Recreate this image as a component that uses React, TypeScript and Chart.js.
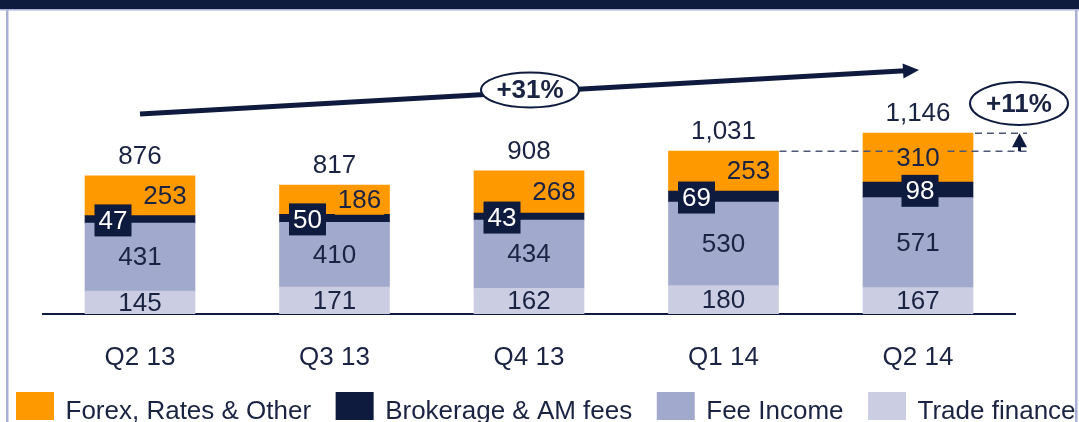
import React, { useEffect, useRef } from "react";
import { Chart, registerables } from "chart.js";

Chart.register(...registerables);

const categories = ["Q2 13", "Q3 13", "Q4 13", "Q1 14", "Q2 14"];
const tradeFinance = [145, 171, 162, 180, 167];
const feeIncome = [431, 410, 434, 530, 571];
const brokerageAm = [47, 50, 43, 69, 98];
const forexRatesOther = [253, 186, 268, 253, 310];
const totals = [876, 817, 908, 1031, 1146];
const growthLongLabel = "+31%";
const growthShortLabel = "+11%";

const NAVY = "#0F1B3E";
const TEXT = "#1A2342";
const ORANGE = "#FF9900";
const FEE = "#A1A9CC";
const TRADE = "#CBCEE3";
const FRAME = "#A9B0D6";
const DASH = "#4F5877";
const FONT = '"Liberation Sans", Arial, Helvetica, sans-serif';

// label horizontal shifts (styling only)
const brokerageShift = [-27, -27, -27, -27, 2];
const forexShift = [25, 25, 25, 25, 0];

const fmt = (v: number) => v.toLocaleString("en-US");

const decorPlugin = {
  id: "decor",
  beforeDraw(chart: any) {
    const ctx = chart.ctx;
    const W = chart.width;
    const H = chart.height;
    ctx.save();
    ctx.fillStyle = "#FFFFFF";
    ctx.fillRect(0, 0, W, H);
    ctx.fillStyle = NAVY;
    ctx.fillRect(0, 0, W, 9);
    ctx.fillStyle = FRAME;
    ctx.fillRect(0, 9, W, 1.5);
    ctx.fillRect(6, 10, 2.5, H - 10);
    ctx.fillRect(1075, 10, 2.5, H - 10);
    ctx.restore();
  },
  afterDatasetsDraw(chart: any) {
    const ctx = chart.ctx;
    const mTrade = chart.getDatasetMeta(0);
    const mFee = chart.getDatasetMeta(1);
    const mBrok = chart.getDatasetMeta(2);
    const mFx = chart.getDatasetMeta(3);
    const xs = chart.scales.x;

    ctx.save();
    // dashed comparison lines
    const b4 = mFx.data[3].getProps(["x", "y", "width"], true);
    const b5 = mFx.data[4].getProps(["x", "y", "width"], true);
    const arrowX = 1019.5;
    const lineEnd = 1027;
    ctx.strokeStyle = DASH;
    ctx.lineWidth = 1.5;
    ctx.setLineDash([7, 5]);
    ctx.beginPath();
    ctx.moveTo(b5.x + b5.width / 2 + 2, b5.y);
    ctx.lineTo(lineEnd, b5.y);
    ctx.moveTo(b4.x + b4.width / 2 + 1, b4.y);
    ctx.lineTo(lineEnd, b4.y);
    ctx.stroke();
    ctx.setLineDash([]);

    // small up arrow
    ctx.strokeStyle = NAVY;
    ctx.fillStyle = NAVY;
    ctx.lineWidth = 3;
    ctx.beginPath();
    ctx.moveTo(arrowX, b4.y);
    ctx.lineTo(arrowX, b5.y + 12);
    ctx.stroke();
    ctx.beginPath();
    ctx.moveTo(arrowX, b5.y);
    ctx.lineTo(arrowX - 7.5, b5.y + 14);
    ctx.lineTo(arrowX + 7.5, b5.y + 14);
    ctx.closePath();
    ctx.fill();

    // labels
    ctx.font = `26px ${FONT}`;
    ctx.textAlign = "center";
    ctx.textBaseline = "middle";
    for (let i = 0; i < categories.length; i++) {
      const t = mTrade.data[i].getProps(["x", "y", "base"], true);
      const f = mFee.data[i].getProps(["x", "y", "base"], true);
      const b = mBrok.data[i].getProps(["x", "y", "base"], true);
      const o = mFx.data[i].getProps(["x", "y", "base"], true);

      ctx.fillStyle = TEXT;
      ctx.fillText(String(tradeFinance[i]), t.x, (t.y + t.base) / 2 + 1);
      ctx.fillText(String(feeIncome[i]), f.x, (f.y + f.base) / 2 + 1);

      // forex label
      const fxText = String(forexRatesOther[i]);
      const fxX = o.x + forexShift[i];
      const fxY = (o.y + o.base) / 2 + 1;
      const wFx = ctx.measureText(fxText).width;
      ctx.fillStyle = ORANGE;
      ctx.fillRect(fxX - wFx / 2 - 3, fxY - 14, wFx + 6, 28);
      ctx.fillStyle = TEXT;
      ctx.fillText(fxText, fxX, fxY);

      // brokerage label in navy box
      const bx = b.x + brokerageShift[i];
      const by = (b.y + b.base) / 2 + 1;
      ctx.fillStyle = NAVY;
      ctx.fillRect(bx - 18.5, by - 16, 37, 32);
      ctx.fillStyle = "#FFFFFF";
      ctx.fillText(String(brokerageAm[i]), bx, by + 1);

      // total
      ctx.fillStyle = TEXT;
      ctx.fillText(fmt(totals[i]), o.x, o.y - 19);
    }

    // main growth arrow
    const sx = xs.getPixelForValue(0);
    const sy = 114;
    const tx = xs.getPixelForValue(4) + 1;
    const ty = 70;
    const dx = tx - sx;
    const dy = ty - sy;
    const len = Math.hypot(dx, dy);
    const ux = dx / len;
    const uy = dy / len;
    const nx = -uy;
    const ny = ux;
    const headL = 16;
    const headW = 7.5;
    const bxh = tx - ux * headL;
    const byh = ty - uy * headL;
    ctx.strokeStyle = NAVY;
    ctx.fillStyle = NAVY;
    ctx.lineWidth = 5;
    ctx.beginPath();
    ctx.moveTo(sx, sy);
    ctx.lineTo(bxh + ux * 2, byh + uy * 2);
    ctx.stroke();
    ctx.beginPath();
    ctx.moveTo(tx, ty);
    ctx.lineTo(bxh + nx * headW, byh + ny * headW);
    ctx.lineTo(bxh - nx * headW, byh - ny * headW);
    ctx.closePath();
    ctx.fill();

    // ellipses with growth labels
    const drawBadge = (cx: number, cy: number, rx: number, ry: number, label: string) => {
      ctx.beginPath();
      ctx.ellipse(cx, cy, rx, ry, 0, 0, Math.PI * 2);
      ctx.fillStyle = "#FFFFFF";
      ctx.fill();
      ctx.lineWidth = 2;
      ctx.strokeStyle = NAVY;
      ctx.stroke();
      ctx.fillStyle = TEXT;
      ctx.font = `bold 26px ${FONT}`;
      ctx.textAlign = "center";
      ctx.textBaseline = "middle";
      ctx.fillText(label, cx, cy + 1);
    };
    drawBadge(530, 90, 49, 17.5, growthLongLabel);
    drawBadge(1019, 103.5, 49, 21.5, growthShortLabel);
    ctx.restore();
  },
  afterDraw(chart: any) {
    const ctx = chart.ctx;
    ctx.save();
    ctx.font = `26px ${FONT}`;
    ctx.textAlign = "left";
    ctx.textBaseline = "alphabetic";
    const order = [3, 2, 1, 0];
    let x = 16;
    for (const di of order) {
      const ds = chart.data.datasets[di];
      ctx.fillStyle = ds.backgroundColor;
      ctx.fillRect(x, 392, 38, 28);
      ctx.fillStyle = TEXT;
      ctx.fillText(ds.label, x + 38 + 11.5, 418.5);
      x += 38 + 11.5 + ctx.measureText(ds.label).width + 24.5;
    }
    ctx.restore();
  },
};

export default function App() {
  const ref = useRef<HTMLCanvasElement | null>(null);

  useEffect(() => {
    if (!ref.current) return;
    const chart = new Chart(ref.current, {
      type: "bar",
      data: {
        labels: categories,
        datasets: [
          { label: "Trade finance", data: tradeFinance, backgroundColor: TRADE },
          { label: "Fee Income", data: feeIncome, backgroundColor: FEE },
          { label: "Brokerage & AM fees", data: brokerageAm, backgroundColor: NAVY },
          { label: "Forex, Rates & Other", data: forexRatesOther, backgroundColor: ORANGE },
        ].map((d) => ({ ...d, borderWidth: 0, barThickness: 110 })),
      },
      options: {
        responsive: false,
        animation: false,
        devicePixelRatio: 1,
        layout: { padding: { left: 42.75, right: 63.75, top: 30, bottom: 0 } },
        plugins: {
          legend: { display: false },
          tooltip: { enabled: false },
        },
        scales: {
          x: {
            stacked: true,
            grid: { display: false, drawTicks: false },
            border: { display: true, color: NAVY, width: 2 },
            ticks: {
              color: TEXT,
              padding: 28,
              font: { family: FONT, size: 26 },
            },
            afterFit: (scale: any) => {
              scale.height = 108;
            },
          },
          y: {
            stacked: true,
            display: false,
            min: 0,
            max: 1800,
          },
        },
      },
      plugins: [decorPlugin],
    });
    return () => chart.destroy();
  }, []);

  return (
    <div style={{ position: "absolute", left: 0, top: 0, width: 1079, height: 422 }}>
      <canvas ref={ref} width={1079} height={422} style={{ display: "block" }} />
    </div>
  );
}
